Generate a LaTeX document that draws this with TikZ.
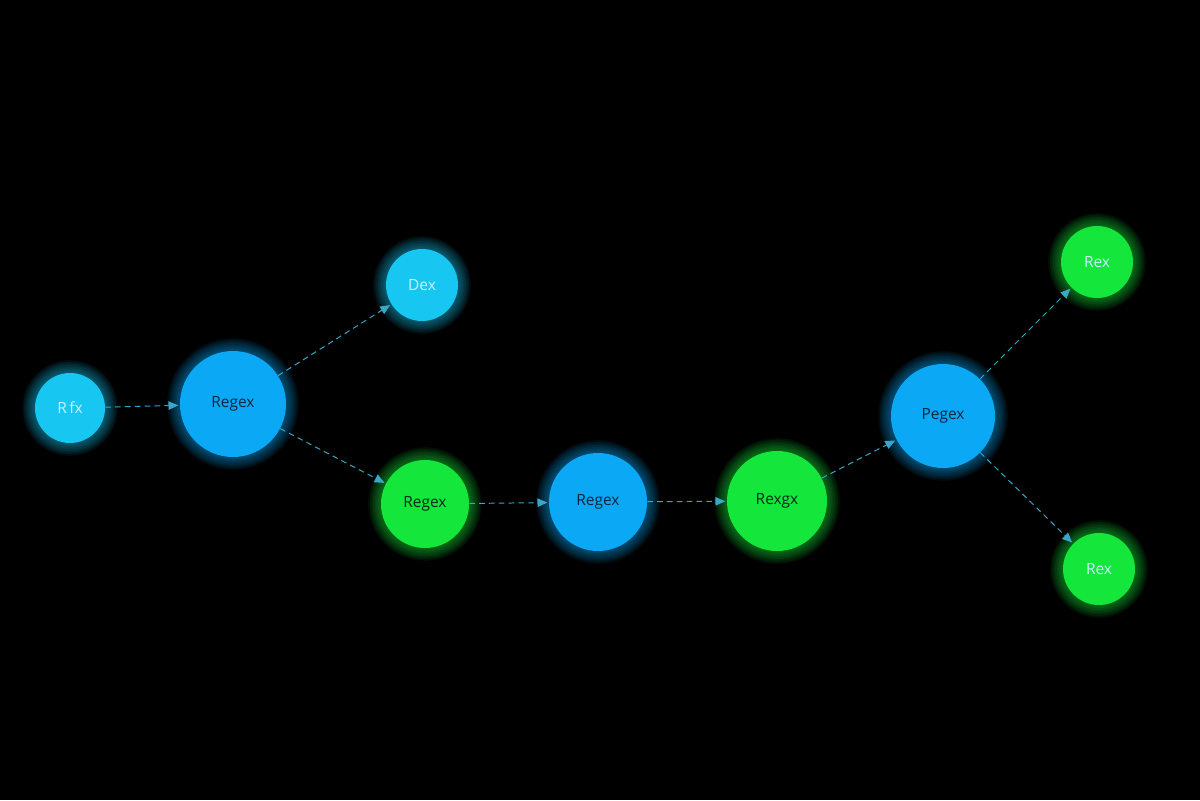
\documentclass[tikz,border=0pt]{standalone}
\usepackage{fontspec}
\setmainfont{Open Sans}
\usetikzlibrary{arrows.meta}
\definecolor{cyanN}{HTML}{18C6F2}
\definecolor{blueN}{HTML}{0BA8F5}
\definecolor{greenN}{HTML}{14E63C}
\definecolor{edgeC}{HTML}{3BA7C8}
\definecolor{darkT}{HTML}{0B2440}
\definecolor{lightT}{HTML}{C8F4FF}
\tikzset{
  nd/.style={circle,inner sep=0pt,font=\fontsize{11}{13}\selectfont},
  cy/.style={nd,fill=cyanN,text=lightT},
  bl/.style={nd,fill=blueN,text=darkT},
  gr/.style={nd,fill=greenN,text=darkT!70!green!40!black},
  grl/.style={nd,fill=greenN,text=lightT},
  conn/.style={draw=edgeC,dashed,dash pattern=on 4pt off 3pt,line width=0.7pt,-{Triangle[length=7pt,width=6pt]},shorten >=1pt}
}
\newcommand{\glowat}[3]{%
  \foreach \k in {1,...,8}{\fill[#3,opacity=0.07] (#1) circle ({#2+\k*1.6});}}
\begin{document}
\begin{tikzpicture}[x=0.025cm,y=-0.025cm]
\fill[black] (0,0) rectangle (1200,800);
\useasboundingbox (0,0) rectangle (1200,800);
\glowat{70,408}{35}{cyanN}
\glowat{233,404}{53}{blueN}
\glowat{422,285}{36}{cyanN}
\glowat{425,504}{44}{greenN}
\glowat{598,502}{49}{blueN}
\glowat{777,501}{50}{greenN}
\glowat{943,416}{52}{blueN}
\glowat{1097,262}{36}{greenN}
\glowat{1099,569}{36}{greenN}
\node[cy,minimum size=70*0.025cm] (a) at (70,408) {R\,fx};
\node[bl,minimum size=106*0.025cm] (b) at (233,404) {Regex};
\node[cy,minimum size=72*0.025cm] (c) at (422,285) {Dex};
\node[gr,minimum size=88*0.025cm] (d) at (425,504) {Regex};
\node[bl,minimum size=98*0.025cm] (e) at (598,502) {Regex};
\node[gr,minimum size=100*0.025cm] (f) at (777,501) {Rexgx};
\node[bl,minimum size=104*0.025cm] (g) at (943,416) {Pegex};
\node[grl,minimum size=72*0.025cm] (h) at (1097,262) {Rex};
\node[grl,minimum size=72*0.025cm] (i) at (1099,569) {Rex};
\draw[conn] (a) -- (b);
\draw[conn] (b) -- (c);
\draw[conn] (b) -- (d);
\draw[conn] (d) -- (e);
\draw[conn] (e) -- (f);
\draw[conn] (f) -- (g);
\draw[conn] (g) -- (h);
\draw[conn] (g) -- (i);
\end{tikzpicture}
\end{document}
